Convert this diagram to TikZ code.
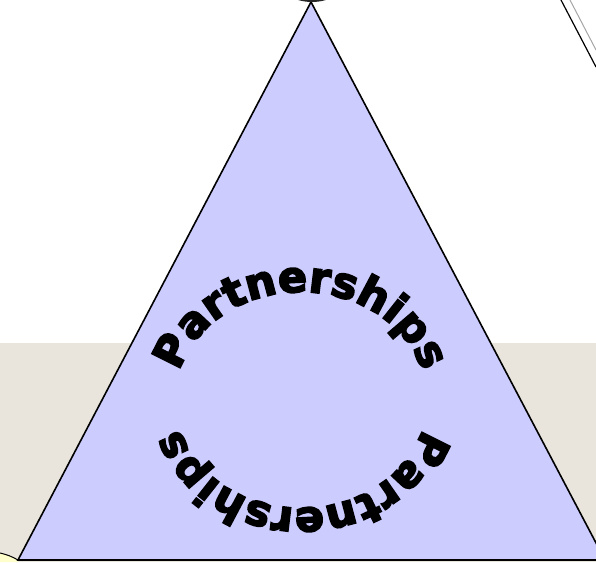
\documentclass[tikz,border=0pt]{standalone}
\usepackage{fontspec}
\usetikzlibrary{decorations.text}
\newfontfamily\wordartfont[FakeBold=4]{DejaVu Sans Bold}
\definecolor{pyramidfill}{HTML}{CCCCFF}
\definecolor{floorband}{HTML}{E9E5DC}
\definecolor{notefill}{HTML}{FFFFCC}
\tikzset{
  pyramid/.style = {draw=black, line width=1.6pt, fill=pyramidfill, line join=miter},
  ringtext/.style = {decorate, decoration={text along path, text align=center,
                     text={|\wordartfont\fontsize{43}{43}\selectfont|Partnerships}}},
}

\begin{document}
\begin{tikzpicture}[x=1pt,y=1pt]

  % Frame
  \useasboundingbox (0,0) rectangle (596,562);
  \fill[white] (0,0) rectangle (596,562);

  % Floor band behind the triangle
  \fill[floorband] (0,0) rectangle (596,219);

  % Shape cut off at the top right
  \draw[black!35, line width=1pt] (570,562) -- (596,512);
  \draw[black, line width=1.2pt] (561,562) -- (596,495);

  % Shape cut off at the bottom left
  \fill[notefill] (0,0) -- (0,9) to[bend left=8] (18,2) -- (18,0) -- cycle;
  \draw[black, line width=1pt] (0,9) to[bend left=8] (18,2);

  % Triangle
  \draw[pyramid] (311,560) -- (18,2) -- (605,2) -- cycle;

  % Ellipse on the apex
  \fill[black!85] (312,586) ellipse [x radius=36, y radius=26];

  % Ring text
  \coordinate (ring) at (301,162);
  \path[ringtext] (ring) ++(165:126 and 108)
    arc[start angle=165, end angle=15, x radius=126, y radius=108];
  \path[ringtext] (ring) ++(-15:126 and 108)
    arc[start angle=-15, end angle=-165, x radius=126, y radius=108];

\end{tikzpicture}
\end{document}
